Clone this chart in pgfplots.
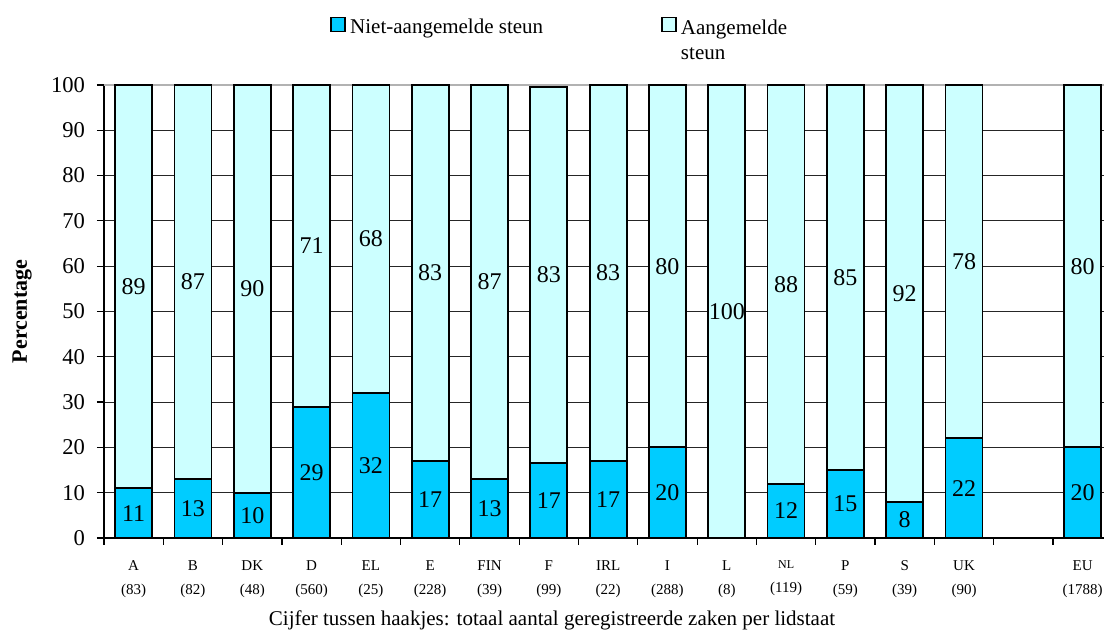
\documentclass[border=0pt]{standalone}
\usepackage{fontspec}
\setmainfont{Liberation Serif}
\usepackage{pgfplots}
\usepackage{pgfplotstable}
\pgfplotsset{compat=1.18}
\definecolor{darkc}{HTML}{00CCFF}
\definecolor{lightc}{HTML}{CCFFFF}

\pgfplotstableread{
x a b la lb
0 11 89 11 89
1 13 87 13 87
2 10 90 10 90
3 29 71 29 71
4 32 68 32 68
5 17 83 17 83
6 13 87 13 87
7 16.6 83 17 83
8 17 83 17 83
9 20 80 20 80
10 0 100 0 100
11 12 88 12 88
12 15 85 15 85
13 8 92 8 92
14 22 78 22 78
16 20 80 20 80
}\data

\begin{document}
\begin{tikzpicture}
\pgfplotsset{
  common/.style={
    at={(0pt,0pt)}, anchor=south west,
    scale only axis, width=500pt, height=226.5pt,
    xmin=-0.5, xmax=16.36, ymin=0, ymax=100,
  }
}
\begin{axis}[
  common,
  ybar stacked, bar width=18.5pt,
  axis x line*=bottom, axis y line*=left,
  axis line style={-, line width=0.6pt, black},
  xtick={0,1,2,3,4,5,6,7,8,9,10,11,12,13,14,16},
  xticklabels={A\\(83),B\\(82),DK\\(48),D\\(560),EL\\(25),E\\(228),FIN\\(39),F\\(99),IRL\\(22),I\\(288),L\\(8),{\fontsize{6}{7}\selectfont NL}\\(119),P\\(59),S\\(39),UK\\(90),EU\\(1788)},
  xticklabel style={font=\fontsize{7.5}{12}\selectfont, align=center, yshift=-4.5pt},
  minor xtick={-0.5,0.5,...,16.5},
  major x tick style={draw=none},
  minor x tick style={black, line width=0.6pt},
  tick align=outside,
  major tick length=3.5pt, minor tick length=3.5pt,
  ytick={0,10,20,30,40,50,60,70,80,90,100},
  y tick style={black, line width=0.6pt},
  yticklabel style={font=\fontsize{11.3}{13}\selectfont, /pgf/number format/assume math mode=true, xshift=-2.5pt},
  ymajorgrids=true,
  y grid style={black!85, line width=0.5pt},
  ylabel={\textbf{Percentage}},
  ylabel style={at={(axis description cs:-0.082,0.5)}, anchor=center, font=\fontsize{11}{13}\selectfont},
  xlabel={Cijfer tussen haakjes: totaal aantal geregistreerde zaken per lidstaat},
  xlabel style={at={(axis description cs:0.448,0)}, anchor=north, yshift=-32.8pt, font=\fontsize{10.5}{12}\selectfont},
  legend columns=2,
  legend style={at={(axis description cs:0.220,1.168)}, anchor=north west, draw=none, fill=none,
    font=\fontsize{10.5}{12.5}\selectfont,
    /tikz/every even column/.append style={column sep=57pt}},
  legend cell align=left,
  legend image code/.code={\draw[#1, line width=0.9pt] (0pt,-2pt) rectangle (7pt,5pt);},
]
\addplot[fill=darkc, draw=black, line width=0.9pt] table[x=x, y=a] {\data};
\addlegendentry{Niet-aangemelde steun}
\addplot[fill=lightc, draw=black, line width=0.9pt] table[x=x, y=b] {\data};
\addlegendentry{\begin{tabular}[t]{@{}l@{}}Aangemelde\\steun\end{tabular}}
\draw[gray!60, line width=1pt] (rel axis cs:0,1) -- (rel axis cs:1,1);
\end{axis}
\begin{axis}[
  common, hide axis, clip=false,
  nodes near coords,
  point meta=explicit symbolic,
  nodes near coords style={anchor=center, text=black, font=\fontsize{12}{14}\selectfont},
]
\addplot[only marks, mark=*, mark size=0pt, mark options={draw=none, fill=none}, skip coords between index={10}{11}]
  table[x=x, y expr=\thisrow{a}/2, meta=la] {\data};
\addplot[only marks, mark=*, mark size=0pt, mark options={draw=none, fill=none}]
  table[x=x, y expr=\thisrow{a}+\thisrow{b}/2, meta=lb] {\data};
\end{axis}
\pgfresetboundingbox
\path[use as bounding box] (-52pt,-46.5pt) rectangle (500pt,269pt);
\end{tikzpicture}
\end{document}
